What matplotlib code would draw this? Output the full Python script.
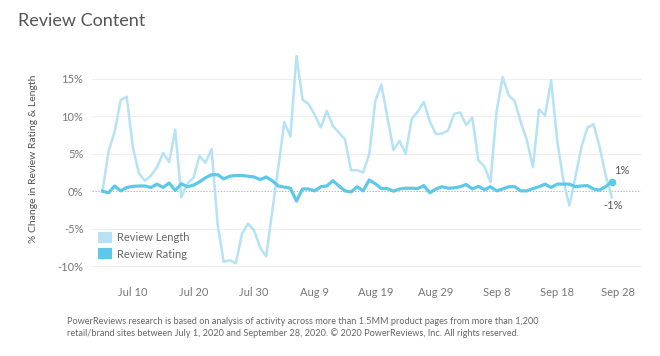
import numpy as np
import pandas as pd
import matplotlib
matplotlib.use("Agg")
import matplotlib.pyplot as plt
import matplotlib.dates as mdates
from matplotlib.patches import Patch

plt.rcParams['font.family'] = ['Lato', 'DejaVu Sans']

dates = pd.date_range("2020-07-05", periods=85, freq="D")

review_length = [
    0.0, 5.3, 7.9, 12.1, 12.6, 5.9, 2.4, 1.4, 2.1, 3.2,
    5.1, 3.9, 8.2, -0.8, 1.0, 1.8, 4.7, 3.8, 5.6, -4.5,
    -9.4, -9.2, -9.6, -5.7, -4.3, -5.2, -7.5, -8.7, -2.7, 3.2,
    9.2, 7.3, 18.0, 12.2, 11.6, 10.2, 8.5, 10.7, 8.7, 7.8,
    6.9, 2.8, 2.8, 2.5, 4.9, 12.0, 14.2, 9.8, 5.5, 6.7,
    5.0, 9.6, 10.6, 11.9, 9.3, 7.6, 7.7, 8.1, 10.3, 10.5,
    8.8, 9.8, 4.1, 3.3, 1.2, 10.6, 15.2, 12.8, 12.0, 9.2,
    6.8, 3.2, 10.9, 10.1, 14.8, 6.8, 1.5, -1.9, 1.9, 5.9,
    8.5, 8.9, 5.9, 2.1, -0.8,
]

review_rating = [
    0.0, -0.2, 0.7, 0.05, 0.5, 0.65, 0.7, 0.7, 0.5, 0.95,
    0.5, 1.1, 0.1, 1.0, 0.6, 0.8, 1.25, 1.8, 2.2, 2.2,
    1.65, 2.0, 2.1, 2.1, 2.0, 1.9, 1.55, 1.9, 1.4, 0.7,
    0.55, 0.4, -1.3, 0.3, 0.3, 0.05, 0.6, 0.7, 1.4, 0.7,
    0.05, -0.1, 0.6, 0.05, 1.5, 1.0, 0.35, 0.35, 0.0, 0.3,
    0.4, 0.4, 0.35, 0.75, -0.2, 0.3, 0.6, 0.4, 0.45, 0.6,
    0.9, 0.3, 0.65, 0.2, 0.6, 0.05, 0.3, 0.6, 0.6, 0.05,
    0.05, 0.35, 0.6, 0.95, 0.5, 0.95, 0.95, 0.95, 0.6, 0.7,
    0.75, 0.3, 0.15, 0.6, 1.25,
]

tick_dates = pd.to_datetime(["2020-07-10", "2020-07-20", "2020-07-30", "2020-08-09",
                             "2020-08-19", "2020-08-29", "2020-09-08", "2020-09-18",
                             "2020-09-28"])
y_ticks = [-10, -5, 0, 5, 10, 15]

c_length = '#b5e2f4'
c_rating = '#5ec8e8'

fig = plt.figure(figsize=(6.6, 3.56), dpi=100)
ax = fig.add_axes([0.139, 0.233, 0.832, 0.641])

for v in y_ticks:
    if v == 0:
        ax.axhline(0, color='#bbbbbb', lw=0.7, ls=(0, (1.5, 1.5)), zorder=1)
    else:
        ax.axhline(v, color='#eeeeee', lw=0.8, zorder=1)
ax.axhline(-10.9, color='#e6e6e6', lw=0.8, ls=(0, (1, 1)), zorder=1)

ax.plot(dates, review_length, color=c_length, lw=1.8, zorder=2)
ax.plot(dates, review_rating, color=c_rating, lw=2.3, zorder=3)
ax.plot(dates[-1], review_rating[-1], 'o', color=c_rating, ms=4.5, zorder=4)

ax.annotate('1%', (dates[-1], review_rating[-1]), xytext=(7, 8), textcoords='offset points',
            ha='center', va='center', fontsize=8, color='#555555')
ax.annotate('-1%', (dates[-1], review_length[-1]), xytext=(1, -6), textcoords='offset points',
            ha='center', va='center', fontsize=8, color='#555555')

x0 = dates[0] - pd.Timedelta(days=1.77)
x1 = dates[0] + pd.Timedelta(days=88.8)
ax.set_xlim(x0, x1)
ax.set_ylim(-10.9, 19.5)

ax.set_xticks(tick_dates)
ax.xaxis.set_major_formatter(mdates.DateFormatter('%b %-d'))
ax.set_yticks(y_ticks)
ax.set_yticklabels([f'{v}%' for v in y_ticks])
ax.tick_params(length=0, labelsize=8, colors='#777777', pad=6)
ax.tick_params(axis='x', pad=10)
for s in ax.spines.values():
    s.set_visible(False)

ax.set_ylabel('% Change in Review Rating & Length', fontsize=7.5, color='#555555', labelpad=14)

handles = [Patch(facecolor=c_length, edgecolor='none', label='Review Length'),
           Patch(facecolor=c_rating, edgecolor='none', label='Review Rating')]
ax.legend(handles=handles, loc='lower left', bbox_to_anchor=(0.0, 0.03), frameon=False,
          fontsize=8, labelcolor='#666666', handlelength=1.2, handleheight=1.2,
          handletextpad=0.5, labelspacing=0.45, borderaxespad=0.2)

fig.text(0.027, 0.941, 'Review Content', fontsize=13, color='#555555', va='center')

fig.text(0.101, 0.08,
         'PowerReviews research is based on analysis of activity across more than 1.5MM product pages from more than 1,200\n'
         'retail/brand sites between July 1, 2020 and September 28, 2020. \u00a9 2020 PowerReviews, Inc. All rights reserved.',
         fontsize=6.6, color='#666666', va='center', ha='left', linespacing=1.2)

fig.savefig('out.png', dpi=100)
